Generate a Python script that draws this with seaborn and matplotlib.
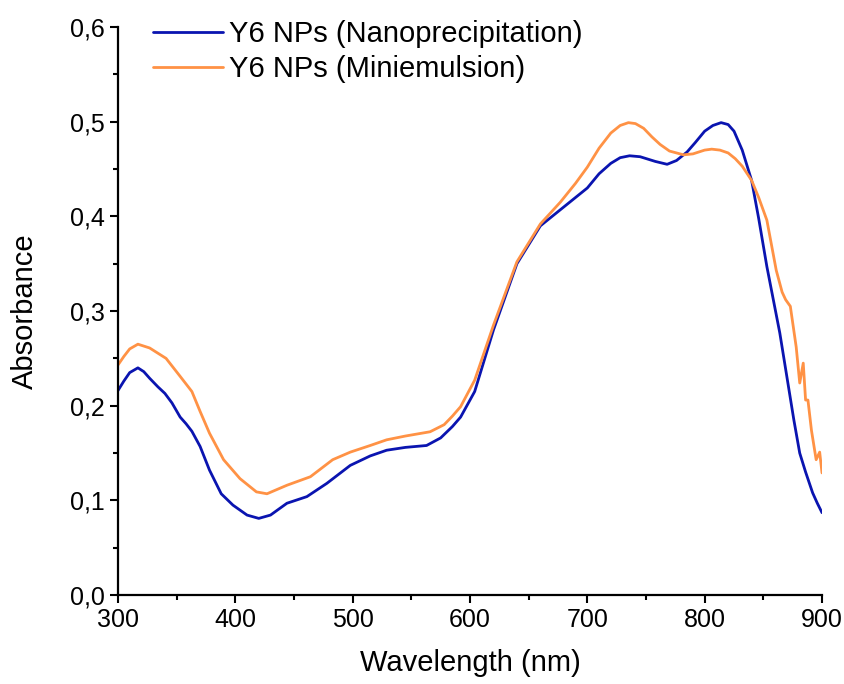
import matplotlib
matplotlib.use("Agg")
import matplotlib.pyplot as plt
from matplotlib.ticker import MultipleLocator, FuncFormatter
import seaborn as sns
import pandas as pd

series_names = ["Y6 NPs (Nanoprecipitation)", "Y6 NPs (Miniemulsion)"]
colors = ["#0A14B0", "#FF9245"]

wl_nano = [300, 305, 310, 317, 322, 327, 334, 340, 346, 353, 358, 363, 370, 378, 388, 398, 410, 420,
           430, 444, 461, 478, 498, 515, 529, 545, 563, 575, 585, 592, 604, 620, 640,
           660, 677, 690, 700, 710, 720, 728, 736, 745, 758, 768, 776, 785, 792, 800, 807, 814, 820, 825, 832, 840,
           846, 853, 864, 876, 881, 886, 892, 896, 900]
abs_nano = [0.216, 0.226, 0.235, 0.240, 0.236, 0.229, 0.220, 0.213, 0.203, 0.188, 0.181, 0.173, 0.157, 0.132, 0.107, 0.095, 0.0845, 0.081,
            0.0845, 0.097, 0.104, 0.118, 0.137, 0.147, 0.153, 0.156, 0.158, 0.166, 0.178, 0.188, 0.215, 0.28, 0.35,
            0.39, 0.407, 0.42, 0.43, 0.445, 0.456, 0.462, 0.464, 0.463, 0.458, 0.455, 0.459, 0.468, 0.478, 0.490, 0.496, 0.499, 0.497, 0.490, 0.470, 0.438,
            0.398, 0.347, 0.277, 0.185, 0.150, 0.130, 0.108, 0.097, 0.087]

wl_mini = [300, 305, 310, 317, 327, 341, 353, 363, 370, 378, 390, 404, 418, 427, 444,
           464, 483, 498, 515, 529, 545, 566, 578, 585, 592, 604, 620, 640, 660, 677,
           690, 700, 710, 720, 728, 735, 741, 748, 755, 762, 770, 782, 790, 800, 806, 813, 820, 826, 832, 840, 846, 853,
           861, 866, 869, 873, 878, 881, 884, 886, 888, 891, 895, 898, 900]
abs_mini = [0.243, 0.252, 0.260, 0.265, 0.261, 0.250, 0.231, 0.215, 0.194, 0.171, 0.143, 0.123, 0.109, 0.107, 0.116,
            0.125, 0.143, 0.151, 0.158, 0.164, 0.168, 0.1725, 0.180, 0.189, 0.199, 0.227, 0.285, 0.352, 0.392, 0.415,
            0.435, 0.452, 0.472, 0.488, 0.496, 0.499, 0.498, 0.493, 0.484, 0.476, 0.469, 0.465, 0.466, 0.470, 0.471, 0.470, 0.467, 0.461, 0.453, 0.438, 0.420, 0.396,
            0.343, 0.320, 0.312, 0.305, 0.262, 0.224, 0.245, 0.206, 0.206, 0.174, 0.143, 0.151, 0.129]

df = pd.concat([
    pd.DataFrame({"Wavelength": wl_nano, "Absorbance": abs_nano, "Sample": series_names[0]}),
    pd.DataFrame({"Wavelength": wl_mini, "Absorbance": abs_mini, "Sample": series_names[1]}),
])

sns.set_style("ticks")
plt.rcParams["font.family"] = ["Liberation Sans", "DejaVu Sans"]
plt.rcParams["text.color"] = "black"
plt.rcParams["axes.labelcolor"] = "black"
plt.rcParams["xtick.color"] = "black"
plt.rcParams["ytick.color"] = "black"

fig = plt.figure(figsize=(8.45, 6.84), dpi=100)
ax = fig.add_axes([0.1396, 0.130, 0.8332, 0.8305])

sns.lineplot(data=df, x="Wavelength", y="Absorbance", hue="Sample",
             palette=dict(zip(series_names, colors)), linewidth=2.0,
             sort=False, estimator=None, ax=ax)

ax.set_xlim(300, 900)
ax.set_ylim(0, 0.6)
ax.xaxis.set_major_locator(MultipleLocator(100))
ax.xaxis.set_minor_locator(MultipleLocator(50))
ax.yaxis.set_major_locator(MultipleLocator(0.1))
ax.yaxis.set_minor_locator(MultipleLocator(0.05))
ax.yaxis.set_major_formatter(FuncFormatter(lambda v, p: f"{v:.1f}".replace(".", ",")))

for s in ["top", "right"]:
    ax.spines[s].set_visible(False)
for s in ["left", "bottom"]:
    ax.spines[s].set_linewidth(1.6)
    ax.spines[s].set_color("black")

ax.tick_params(which="major", direction="out", length=6, width=1.5, labelsize=18,
               colors="black", labelcolor="black")
ax.tick_params(which="minor", direction="out", length=3.5, width=1.5, colors="black")

ax.set_xlabel("Wavelength (nm)", fontsize=21, labelpad=12, color="black")
ax.set_ylabel("Absorbance", fontsize=21, labelpad=22, color="black")

leg = ax.legend(loc="upper left", bbox_to_anchor=(0.05, 1.012), frameon=False,
                fontsize=21, handlelength=2.4, handletextpad=0.2, labelspacing=0.25,
                borderaxespad=0, borderpad=0)
for t in leg.get_texts():
    t.set_color("black")
for h in leg.get_lines():
    h.set_linewidth(2.0)

fig.savefig("out.png", dpi=100)
